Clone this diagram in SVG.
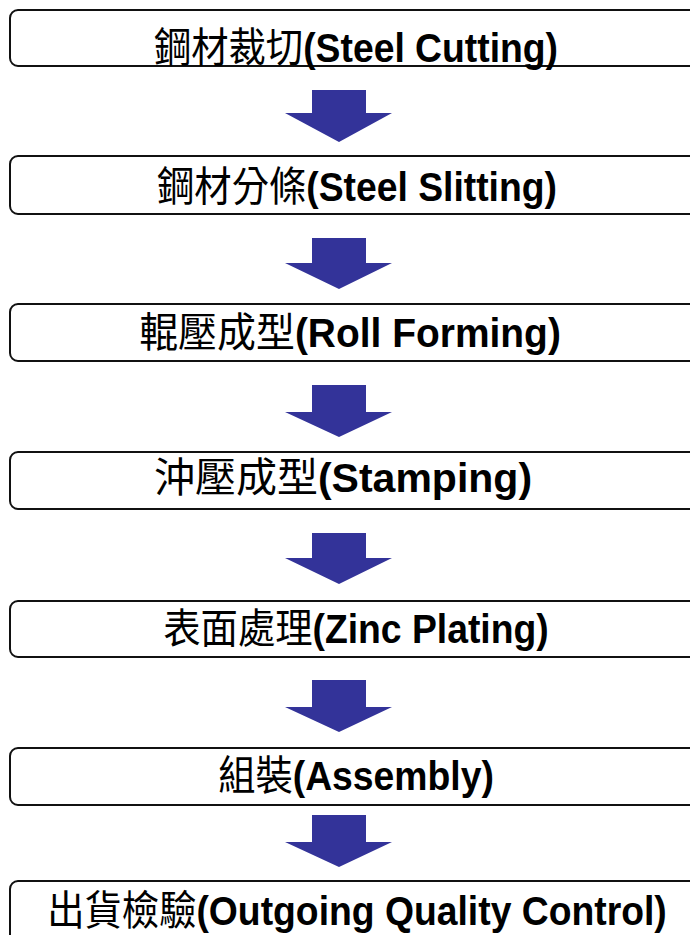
<svg xmlns="http://www.w3.org/2000/svg" width="690" height="935" viewBox="0 0 690 935">
<style>
.box{fill:#fff;stroke:#111;stroke-width:2}
.lbl{font-size:41px;text-anchor:middle;fill:#000}
.cjk{font-family:"Noto Sans CJK TC","Noto Sans CJK SC",sans-serif;font-weight:normal}
.lat{font-family:"Liberation Sans",Arial,sans-serif;font-weight:bold}
.arr{fill:#333399}
</style>
<rect width="690" height="935" fill="#fff"/>
<g id="connectors">
<polygon class="arr" points="312,90 366,90 366,113 392,113 339,142 285,113 312,113"/>
<polygon class="arr" points="312,238 366,238 366,263 392,263 339,289 285,263 312,263"/>
<polygon class="arr" points="312,385 366,385 366,412 392,412 339,437 285,412 312,412"/>
<polygon class="arr" points="312,533 366,533 366,558 392,558 339,584 285,558 312,558"/>
<polygon class="arr" points="312,680 366,680 366,707 392,707 339,732 285,707 312,707"/>
<polygon class="arr" points="312,815 366,815 366,842 392,842 339,867 285,842 312,842"/>
</g>
<g id="n1">
<rect class="box" x="10" y="10" width="700" height="56" rx="8"/>
<text class="lbl" transform="translate(356,62) scale(0.91,1)"><tspan class="cjk">鋼材裁切</tspan><tspan class="lat">(Steel Cutting)</tspan></text>
</g>
<g id="n2">
<rect class="box" x="10" y="156" width="700" height="58" rx="8"/>
<text class="lbl" transform="translate(357,201) scale(0.91,1)"><tspan class="cjk">鋼材分條</tspan><tspan class="lat">(Steel Slitting)</tspan></text>
</g>
<g id="n3">
<rect class="box" x="10" y="304" width="700" height="57" rx="8"/>
<text class="lbl" transform="translate(350,347) scale(0.95,1)"><tspan class="cjk">輥壓成型</tspan><tspan class="lat">(Roll Forming)</tspan></text>
</g>
<g id="n4">
<rect class="box" x="10" y="452" width="700" height="57" rx="8"/>
<text class="lbl" transform="translate(343,492) scale(1.0,1)"><tspan class="cjk">沖壓成型</tspan><tspan class="lat">(Stamping)</tspan></text>
</g>
<g id="n5">
<rect class="box" x="10" y="601" width="700" height="56" rx="8"/>
<text class="lbl" transform="translate(356,643) scale(0.91,1)"><tspan class="cjk">表面處理</tspan><tspan class="lat">(Zinc Plating)</tspan></text>
</g>
<g id="n6">
<rect class="box" x="10" y="748" width="700" height="57" rx="8"/>
<text class="lbl" transform="translate(356,790) scale(0.91,1)"><tspan class="cjk">組裝</tspan><tspan class="lat">(Assembly)</tspan></text>
</g>
<g id="n7">
<rect class="box" x="10" y="881" width="700" height="70" rx="8"/>
<text class="lbl" transform="translate(357,925) scale(0.91,1)"><tspan class="cjk">出貨檢驗</tspan><tspan class="lat">(Outgoing Quality Control)</tspan></text>
</g>
</svg>
